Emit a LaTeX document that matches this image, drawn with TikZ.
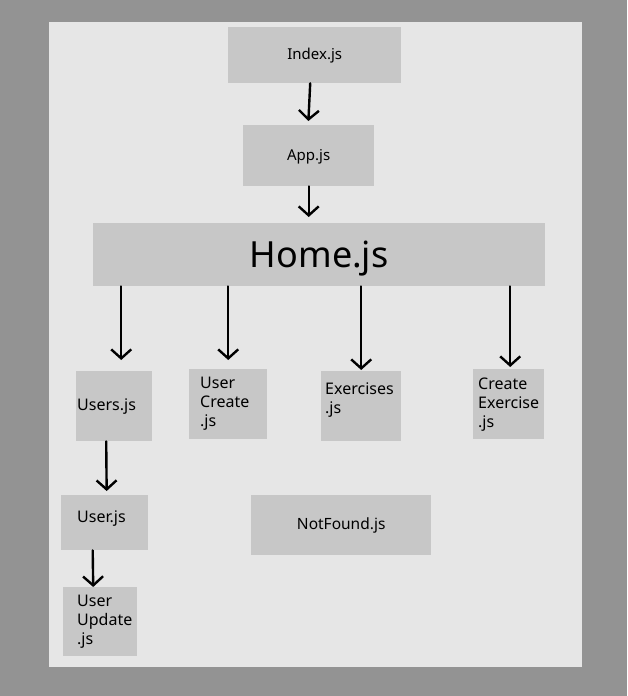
\documentclass[tikz,border=0pt]{standalone}
\usepackage{fontspec}
\setmainfont{Noto Sans}
\usetikzlibrary{arrows.meta}

\definecolor{outergray}{RGB}{147,147,147}
\definecolor{panelgray}{RGB}{230,230,230}
\definecolor{boxgray}{RGB}{199,199,199}

\newcommand{\lowerpad}[1]{\rule[-#1]{0pt}{#1}}

\tikzset{
  file/.style={fill=boxgray, anchor=north west, inner ysep=0pt,
    font=\fontsize{16}{19}\selectfont},
  topfile/.style={file, font=\fontsize{15}{19}\selectfont},
  flow/.style={-{Straight Barb[length=9pt,width=20pt]}, line width=2.4pt,
    line cap=round}
}

\begin{document}
\begin{tikzpicture}[x=1pt,y=-1pt]

% Background and panel
\fill[outergray] (0,0) rectangle (627,696);
\useasboundingbox (0,0) rectangle (627,696);
\fill[panelgray] (49,22) rectangle (582,667);

% Top chain
\node[topfile, minimum width=173pt, minimum height=56pt, text depth=2pt] (index) at (228,27) {Index.js};
\node[topfile, minimum width=131pt, minimum height=61pt, text depth=2pt] (app) at (243,125) {App.js};
\node[file, minimum width=452pt, minimum height=63pt, text depth=0pt,
      font=\fontsize{36}{40}\selectfont] (home) at (93,223) {Home.js};

% Children of Home
\node[file, minimum width=76pt, minimum height=70pt, inner xsep=1pt,
      text width=74pt, align=left] (users) at (76,371) {Users.js};
\node[file, minimum width=78pt, minimum height=70pt, inner xsep=11pt,
      text width=56pt, align=left] (ucreate) at (189,369) {User\\Create\\.js};
\node[file, minimum width=80pt, minimum height=70pt, inner xsep=4pt,
      text width=72pt, align=left] (exercises) at (321,371) {Exercises\\.js\lowerpad{17pt}};
\node[file, minimum width=71pt, minimum height=70pt, inner xsep=5pt,
      text width=61pt, align=left] (cexercise) at (473,369) {Create\\Exercise\\.js};

% Lower row
\node[file, minimum width=87pt, minimum height=55pt, inner xsep=16pt,
      text width=55pt, align=left] (user) at (61,495) {User.js\lowerpad{12pt}};
\node[topfile, minimum width=180pt, minimum height=60pt,
      font=\fontsize{15.5}{19}\selectfont] (notfound) at (251,495) {NotFound.js};
\node[file, minimum width=74pt, minimum height=69pt, inner xsep=14pt,
      text width=46pt, align=left] (uupdate) at (63,587) {User\\Update\\.js};

% Arrows
\draw[flow, shorten >=4pt] ([xshift=-4.5pt]index.south) -- ([xshift=-0.5pt]app.north);
\draw[flow, shorten >=6pt] (app.south) -- (app.south |- home.north);
\draw[flow, shorten >=11pt] ([xshift=7pt]users.north |- home.south) -- ([xshift=7pt]users.north);
\draw[flow, shorten >=9pt] (ucreate.north |- home.south) -- (ucreate.north);
\draw[flow, shorten >=1pt] (exercises.north |- home.south) -- (exercises.north);
\draw[flow, shorten >=2pt] ([xshift=1.5pt]cexercise.north |- home.south) -- ([xshift=1.5pt]cexercise.north);
\draw[flow, shorten >=4pt] ([xshift=-8pt]users.south) -- ([xshift=2pt]user.north);
\draw[flow] ([xshift=-12pt]user.south) -- ([xshift=-7pt]uupdate.north);

\end{tikzpicture}
\end{document}
